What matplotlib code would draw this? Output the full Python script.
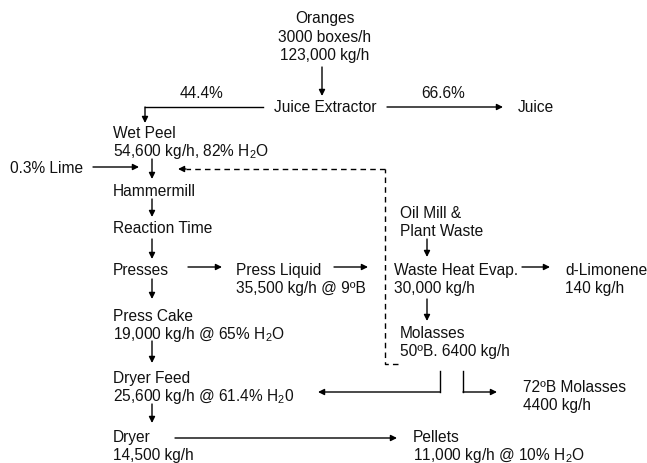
import matplotlib.pyplot as plt
from matplotlib import rcParams

rcParams['font.family'] = 'Liberation Sans'
rcParams['mathtext.fontset'] = 'custom'
rcParams['mathtext.rm'] = 'Liberation Sans'
rcParams['mathtext.it'] = 'Liberation Sans'

# process steps (text only)
oranges = ['Oranges', '3000 boxes/h', '123,000 kg/h']
extractor = ['Juice Extractor']
split_peel = ['44.4%']
split_juice = ['66.6%']
juice = ['Juice']
wet_peel = ['Wet Peel', '54,600 kg/h, 82% H$_2$O']
lime = ['0.3% Lime']
hammermill = ['Hammermill']
reaction = ['Reaction Time']
presses = ['Presses']
press_liquid = ['Press Liquid', '35,500 kg/h @ 9ºB']
press_cake = ['Press Cake', '19,000 kg/h @ 65% H$_2$O']
dryer_feed = ['Dryer Feed', '25,600 kg/h @ 61.4% H$_2$0']
dryer = ['Dryer', '14,500 kg/h']
oil_mill = ['Oil Mill &', 'Plant Waste']
evaporator = ['Waste Heat Evap.', '30,000 kg/h']
limonene = ['d-Limonene', '140 kg/h']
molasses = ['Molasses', '50ºB. 6400 kg/h']
molasses72 = ['72ºB Molasses', '4400 kg/h']
pellets = ['Pellets', '11,000 kg/h @ 10% H$_2$O']

# layout in pixel coordinates (x, baseline y of first line, alignment)
layout = [
    (oranges, 325, 23, 'center'),
    (extractor, 325, 112, 'center'),
    (split_peel, 201, 98, 'center'),
    (split_juice, 443, 98, 'center'),
    (juice, 518, 112, 'left'),
    (wet_peel, 113, 138, 'left'),
    (lime, 10, 173, 'left'),
    (hammermill, 113, 196, 'left'),
    (reaction, 113, 233, 'left'),
    (presses, 113, 275, 'left'),
    (press_liquid, 236, 275, 'left'),
    (press_cake, 113, 321, 'left'),
    (dryer_feed, 113, 383, 'left'),
    (dryer, 113, 442, 'left'),
    (oil_mill, 400, 218, 'left'),
    (evaporator, 394, 275, 'left'),
    (limonene, 565, 275, 'left'),
    (molasses, 400, 338, 'left'),
    (molasses72, 523, 392, 'left'),
    (pellets, 413, 442, 'left'),
]
line_gap = 18.5

# arrows: polyline points, head at last point
arrows = [
    [(322, 68), (322, 97)],
    [(263, 108), (145, 108), (145, 124)],
    [(387, 108), (503, 108)],
    [(93, 168), (139, 168)],
    [(152, 160), (152, 180)],
    [(152, 200), (152, 218)],
    [(152, 240), (152, 260)],
    [(188, 268), (222, 268)],
    [(334, 268), (368, 268)],
    [(152, 280), (152, 300)],
    [(427, 240), (427, 258)],
    [(522, 268), (550, 268)],
    [(427, 300), (427, 322)],
    [(152, 342), (152, 364)],
    [(440, 372), (440, 393), (318, 393)],
    [(463, 372), (463, 393), (497, 393)],
    [(152, 405), (152, 424)],
    [(175, 439), (397, 439)],
]
recycle = [(398, 365), (385, 365), (385, 170), (178, 170)]

fig = plt.figure(figsize=(6.47, 4.64), dpi=100)
ax = fig.add_axes([0, 0, 1, 1])
ax.set_xlim(0, 647)
ax.set_ylim(464, 0)
ax.axis('off')

for lines, x, y, ha in layout:
    for i, s in enumerate(lines):
        ax.text(x, y + i * line_gap, s, ha=ha, va='baseline',
                fontsize=11.2, color='#111111')


def draw_arrow(pts, ls='-'):
    xs = [p[0] for p in pts[:-1]]
    ys = [p[1] for p in pts[:-1]]
    if len(pts) > 2:
        ax.plot(xs, ys, color='k', lw=1, ls=ls)
    ax.annotate('', xy=pts[-1], xytext=pts[-2],
                arrowprops=dict(arrowstyle='-|>', mutation_scale=9,
                                color='k', lw=1, ls=ls,
                                shrinkA=0, shrinkB=0))


for pts in arrows:
    draw_arrow(pts)

ax.plot([p[0] for p in recycle[:-1]], [p[1] for p in recycle[:-1]],
        color='k', lw=1, ls=(0, (4, 3)))
ax.plot([recycle[-2][0], recycle[-1][0] + 8], [recycle[-2][1]] * 2,
        color='k', lw=1, ls=(0, (4, 3)))
ax.annotate('', xy=recycle[-1], xytext=(recycle[-1][0] + 8, recycle[-1][1]),
            arrowprops=dict(arrowstyle='-|>', mutation_scale=9, color='k',
                            lw=1, shrinkA=0, shrinkB=0))

fig.savefig('out.png', dpi=100)
